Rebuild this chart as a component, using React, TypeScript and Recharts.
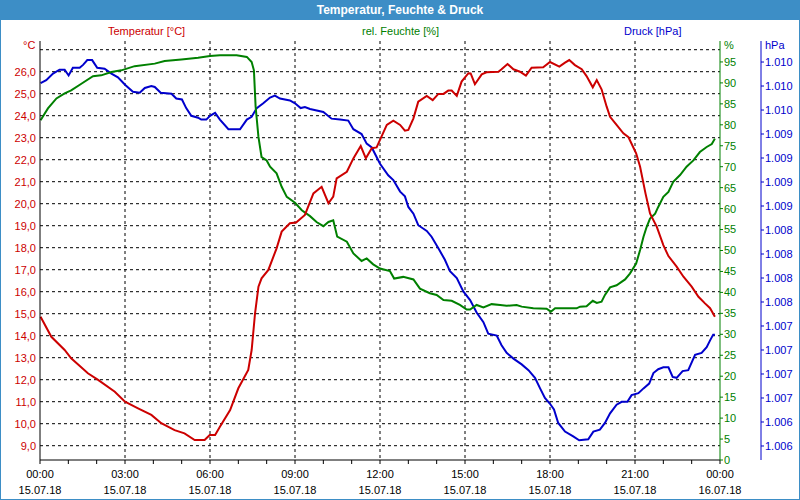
import { LineChart, Line, XAxis, YAxis, CartesianGrid } from "recharts";

const RED = "#cc0000";
const GREEN = "#008000";
const BLUE = "#0000cc";
const FRAME = "#3d8ec6";
const FONT = "'Liberation Sans', Arial, sans-serif";

// x axis: hours of 15.07.18
const hourTicks = Array.from({ length: 25 }, (_, i) => i);
const gridHours = [3, 6, 9, 12, 15, 18, 21];
const timeLabels = ["00:00", "03:00", "06:00", "09:00", "12:00", "15:00", "18:00", "21:00", "00:00"];
const dateLabels = ["15.07.18", "15.07.18", "15.07.18", "15.07.18", "15.07.18", "15.07.18", "15.07.18", "15.07.18", "16.07.18"];

const tempTicks = [9, 10, 11, 12, 13, 14, 15, 16, 17, 18, 19, 20, 21, 22, 23, 24, 25, 26, 27];
const humidityTicks = [0, 5, 10, 15, 20, 25, 30, 35, 40, 45, 50, 55, 60, 65, 70, 75, 80, 85, 90, 95];
const pressureTicks = [
  1006.1, 1006.35, 1006.6, 1006.85, 1007.1, 1007.35, 1007.6, 1007.85, 1008.1,
  1008.35, 1008.6, 1008.85, 1009.1, 1009.35, 1009.6, 1009.85, 1010.1,
];

// Temperatur [°C]
const tempHours = [
  0.02, 0.4, 0.87, 1.1, 1.69, 2.05, 2.64, 3.0, 3.46, 3.93, 4.28, 4.75, 5.1, 5.46, 5.81, 5.99,
  6.18, 6.35, 6.71, 7.0, 7.35, 7.47, 7.59, 7.71, 7.82, 8.06, 8.35, 8.53, 8.82, 9.04, 9.35,
  9.65, 9.94, 10.18, 10.35, 10.47, 10.83, 11.06, 11.32, 11.5, 11.71, 11.88, 12.0, 12.24,
  12.47, 12.71, 12.88, 13.0, 13.18, 13.35, 13.65, 13.86, 14.06, 14.24, 14.41, 14.53, 14.71,
  14.88, 15.12, 15.2, 15.35, 15.59, 15.76, 16.18, 16.29, 16.5, 16.71, 16.94, 17.15, 17.35,
  17.76, 18.0, 18.33, 18.53, 18.68, 18.88, 19.12, 19.29, 19.51, 19.65, 19.82, 20.0, 20.12,
  20.35, 20.59, 20.77, 21.04, 21.18, 21.37, 21.53, 21.77, 22.0, 22.18, 22.47, 22.71, 23.0,
  23.24, 23.47, 23.65, 23.82,
];
const tempValues = [
  14.86, 13.95, 13.35, 12.97, 12.29, 11.99, 11.45, 11.0, 10.7, 10.4, 10.02, 9.71, 9.56, 9.26,
  9.26, 9.49, 9.49, 9.86, 10.62, 11.61, 12.44, 13.35, 15.02, 16.23, 16.61, 16.99, 17.97,
  18.73, 19.11, 19.14, 19.49, 20.47, 20.77, 20.02, 20.32, 21.15, 21.45, 22.06, 22.62, 22.06,
  22.52, 22.56, 22.9, 23.58, 23.77, 23.58, 23.32, 23.35, 23.88, 24.64, 24.9, 24.71, 24.99,
  24.99, 25.14, 25.14, 24.9, 25.55, 25.93, 25.92, 25.43, 25.88, 25.97, 26.0, 26.11, 26.35,
  26.11, 26.0, 25.82, 26.18, 26.2, 26.44, 26.23, 26.41, 26.53, 26.3, 26.11, 25.8, 25.29,
  25.62, 25.2, 24.41, 23.95, 23.58, 23.2, 23.02, 22.29, 21.68, 20.47, 19.56, 18.95, 18.12,
  17.62, 17.14, 16.68, 16.23, 15.77, 15.47, 15.25, 14.86,
];

// rel. Feuchte [%]
const humidityHours = [
  0.02, 0.28, 0.58, 0.87, 1.1, 1.46, 1.87, 2.16, 2.52, 2.87, 3.34, 4.05, 4.4, 4.99, 5.58, 6.0,
  6.35, 6.94, 7.3, 7.47, 7.55, 7.61, 7.71, 7.82, 8.0, 8.12, 8.35, 8.53, 8.71, 9.0, 9.24, 9.53,
  9.76, 10.0, 10.18, 10.35, 10.49, 10.83, 11.06, 11.35, 11.53, 11.76, 12.0, 12.35, 12.5,
  12.82, 13.18, 13.41, 13.76, 14.0, 14.24, 14.53, 14.82, 15.06, 15.18, 15.41, 15.65, 15.94,
  16.24, 16.47, 16.82, 17.0, 17.41, 17.88, 18.03, 18.18, 18.94, 19.06, 19.29, 19.51, 19.65,
  19.82, 19.94, 20.12, 20.35, 20.65, 20.82, 21.04, 21.18, 21.3, 21.41, 21.53, 21.71, 21.82,
  22.0, 22.18, 22.35, 22.59, 22.82, 23.06, 23.29, 23.53, 23.71, 23.82,
];
const humidityValues = [
  81.1, 83.9, 86.3, 87.5, 88.2, 89.8, 91.6, 91.8, 92.6, 93.0, 94.0, 94.6, 95.2, 95.6, 96.0,
  96.4, 96.6, 96.6, 96.2, 95.0, 93.0, 84.3, 77.1, 72.3, 71.5, 70.0, 68.4, 65.2, 62.8, 61.4,
  59.6, 58.2, 56.8, 55.8, 56.8, 57.2, 53.3, 52.1, 49.3, 47.5, 48.1, 46.7, 45.7, 45.1, 43.3,
  43.7, 43.1, 40.9, 39.8, 39.4, 38.2, 38.0, 37.0, 35.9, 35.9, 37.0, 36.4, 37.2, 37.0, 36.8,
  37.0, 36.6, 36.2, 36.1, 35.4, 36.2, 36.2, 36.6, 36.7, 38.0, 37.5, 37.8, 39.4, 41.2, 41.7,
  43.1, 44.5, 46.9, 50.1, 53.3, 55.6, 57.6, 58.8, 60.4, 62.8, 64.0, 66.4, 68.0, 70.0, 71.5,
  73.5, 74.7, 75.4, 76.7,
];

// Druck [hPa]
const pressureHours = [
  0.02, 0.22, 0.46, 0.69, 0.87, 1.01, 1.16, 1.4, 1.52, 1.67, 1.84, 2.02, 2.28, 2.52, 2.75,
  3.01, 3.28, 3.52, 3.7, 3.93, 4.05, 4.26, 4.64, 4.81, 5.01, 5.16, 5.34, 5.58, 5.69, 5.87,
  6.0, 6.18, 6.35, 6.65, 7.06, 7.3, 7.47, 7.65, 7.88, 8.12, 8.29, 8.47, 8.82, 9.0, 9.2, 9.35,
  9.53, 10.0, 10.29, 10.59, 10.88, 11.06, 11.35, 11.53, 11.71, 11.88, 12.0, 12.29, 12.47,
  12.71, 12.88, 13.0, 13.18, 13.35, 13.65, 13.82, 14.06, 14.29, 14.47, 14.71, 14.94, 15.18,
  15.41, 15.65, 15.82, 16.12, 16.29, 16.47, 16.71, 17.0, 17.24, 17.47, 17.65, 17.82, 18.0,
  18.14, 18.29, 18.53, 18.82, 19.03, 19.35, 19.53, 19.76, 19.94, 20.12, 20.35, 20.53, 20.73,
  20.88, 21.12, 21.3, 21.5, 21.65, 21.82, 22.0, 22.18, 22.33, 22.47, 22.68, 22.88, 23.12,
  23.35, 23.53, 23.65, 23.76, 23.82,
];
const pressureValues = [
  1009.88, 1009.91, 1009.98, 1010.02, 1010.02, 1009.96, 1010.04, 1010.04, 1010.07, 1010.12,
  1010.12, 1010.04, 1010.03, 1009.98, 1009.94, 1009.86, 1009.79, 1009.78, 1009.83, 1009.85,
  1009.84, 1009.78, 1009.77, 1009.72, 1009.71, 1009.62, 1009.54, 1009.52, 1009.5, 1009.5,
  1009.54, 1009.57, 1009.5, 1009.4, 1009.4, 1009.5, 1009.53, 1009.62, 1009.67, 1009.73,
  1009.75, 1009.72, 1009.7, 1009.67, 1009.62, 1009.63, 1009.61, 1009.58, 1009.51, 1009.5,
  1009.49, 1009.4, 1009.35, 1009.25, 1009.21, 1009.11, 1009.04, 1008.92, 1008.87, 1008.75,
  1008.7, 1008.59, 1008.52, 1008.4, 1008.34, 1008.28, 1008.16, 1008.04, 1007.92, 1007.85,
  1007.71, 1007.62, 1007.49, 1007.39, 1007.27, 1007.25, 1007.15, 1007.07, 1007.01, 1006.95,
  1006.89, 1006.81, 1006.7, 1006.6, 1006.54, 1006.48, 1006.34, 1006.25, 1006.2, 1006.16,
  1006.17, 1006.25, 1006.27, 1006.34, 1006.44, 1006.53, 1006.56, 1006.56, 1006.63, 1006.65,
  1006.7, 1006.75, 1006.86, 1006.9, 1006.92, 1006.92, 1006.82, 1006.81, 1006.88, 1006.89,
  1007.05, 1007.07, 1007.13, 1007.2, 1007.26, 1007.26,
];

const toPoints = (hours: number[], values: number[]) =>
  hours.map((h, i) => ({ h, v: values[i] }));

const tempData = toPoints(tempHours, tempValues);
const humidityData = toPoints(humidityHours, humidityValues);
const pressureData = toPoints(pressureHours, pressureValues);

const formatTemp = (v: number) => (v === 27 ? "" : v.toFixed(1).replace(".", ","));
const formatPressure = (v: number) => {
  const r = Math.round(v);
  return `${Math.floor(r / 1000)}.${String(r % 1000).padStart(3, "0")}`;
};

function TimeTick({ x, y, payload }: any) {
  const h = payload.value;
  if (h % 3 !== 0) return <g />;
  const i = h / 3;
  return (
    <g transform={`translate(${x},${y})`}>
      <text textAnchor="middle" fill="#000" fontSize={11} fontFamily={FONT}>
        <tspan x={0} dy={12}>{timeLabels[i]}</tspan>
        <tspan x={0} dy={16}>{dateLabels[i]}</tspan>
      </text>
    </g>
  );
}

const label = (color: string): React.CSSProperties => ({
  position: "absolute",
  color,
  fontFamily: FONT,
  fontSize: 11,
  lineHeight: "12px",
  whiteSpace: "nowrap",
});

export default function App() {
  return (
    <div style={{ position: "absolute", left: 0, top: 0, width: 800, height: 500, background: "#fff" }}>
      <div
        style={{
          position: "absolute",
          left: 0,
          top: 0,
          width: 800,
          height: 20,
          background: FRAME,
          color: "#fff",
          fontFamily: FONT,
          fontWeight: "bold",
          fontSize: 12,
          lineHeight: "20px",
          textAlign: "center",
        }}
      >
        Temperatur, Feuchte &amp; Druck
      </div>

      <div style={{ position: "absolute", left: 0, top: 0 }}>
        <LineChart width={800} height={500} margin={{ top: 41, right: 0, bottom: 0, left: 0 }}>
          <CartesianGrid
            yAxisId="t"
            stroke="#000"
            strokeDasharray="3 3"
            verticalValues={gridHours}
            horizontalValues={tempTicks}
          />
          <XAxis
            dataKey="h"
            type="number"
            domain={[0, 24]}
            ticks={hourTicks}
            interval={0}
            height={40}
            tickSize={4}
            tickMargin={2}
            axisLine={{ stroke: "#000" }}
            tickLine={{ stroke: "#000" }}
            tick={<TimeTick />}
          />
          <XAxis
            xAxisId="top"
            orientation="top"
            dataKey="h"
            type="number"
            domain={[0, 24]}
            height={0}
            tick={false}
            tickLine={false}
            axisLine={{ stroke: "#000" }}
          />
          <YAxis
            yAxisId="t"
            width={40}
            domain={[8.35, 27.395]}
            ticks={tempTicks}
            interval={0}
            allowDataOverflow
            tickFormatter={formatTemp}
            tickLine={false}
            tickSize={0}
            tickMargin={4}
            axisLine={{ stroke: "#000" }}
            tick={{ fill: RED, fontSize: 11, fontFamily: FONT }}
          />
          <YAxis
            yAxisId="hum"
            orientation="right"
            width={41}
            domain={[0, 100]}
            ticks={humidityTicks}
            interval={0}
            allowDataOverflow
            tickSize={3}
            tickMargin={1}
            axisLine={{ stroke: GREEN }}
            tickLine={{ stroke: GREEN }}
            tick={{ fill: GREEN, fontSize: 11, fontFamily: FONT, textAnchor: "start" }}
          />
          <YAxis
            yAxisId="p"
            orientation="right"
            width={39}
            domain={[1005.954, 1010.319]}
            ticks={pressureTicks}
            interval={0}
            allowDataOverflow
            tickFormatter={formatPressure}
            tickSize={3}
            tickMargin={1}
            axisLine={{ stroke: BLUE }}
            tickLine={{ stroke: BLUE }}
            tick={{ fill: BLUE, fontSize: 11, fontFamily: FONT, textAnchor: "start" }}
          />
          <Line
            yAxisId="p"
            data={pressureData}
            dataKey="v"
            type="linear"
            stroke={BLUE}
            strokeWidth={2}
            dot={false}
            isAnimationActive={false}
          />
          <Line
            yAxisId="hum"
            data={humidityData}
            dataKey="v"
            type="linear"
            stroke={GREEN}
            strokeWidth={2}
            dot={false}
            isAnimationActive={false}
          />
          <Line
            yAxisId="t"
            data={tempData}
            dataKey="v"
            type="linear"
            stroke={RED}
            strokeWidth={2}
            dot={false}
            isAnimationActive={false}
          />
        </LineChart>
      </div>

      <div style={{ ...label(RED), left: 108, top: 25 }}>Temperatur [°C]</div>
      <div style={{ ...label(GREEN), left: 362, top: 25 }}>rel. Feuchte [%]</div>
      <div style={{ ...label(BLUE), left: 624, top: 25 }}>Druck [hPa]</div>
      <div style={{ ...label(RED), left: 23, top: 39 }}>°C</div>
      <div style={{ ...label(GREEN), left: 724, top: 39 }}>%</div>
      <div style={{ ...label(BLUE), left: 765, top: 39 }}>hPa</div>

      <div
        style={{
          position: "absolute",
          left: 0,
          top: 0,
          width: 800,
          height: 500,
          boxSizing: "border-box",
          border: `1px solid ${FRAME}`,
          pointerEvents: "none",
        }}
      />
    </div>
  );
}
